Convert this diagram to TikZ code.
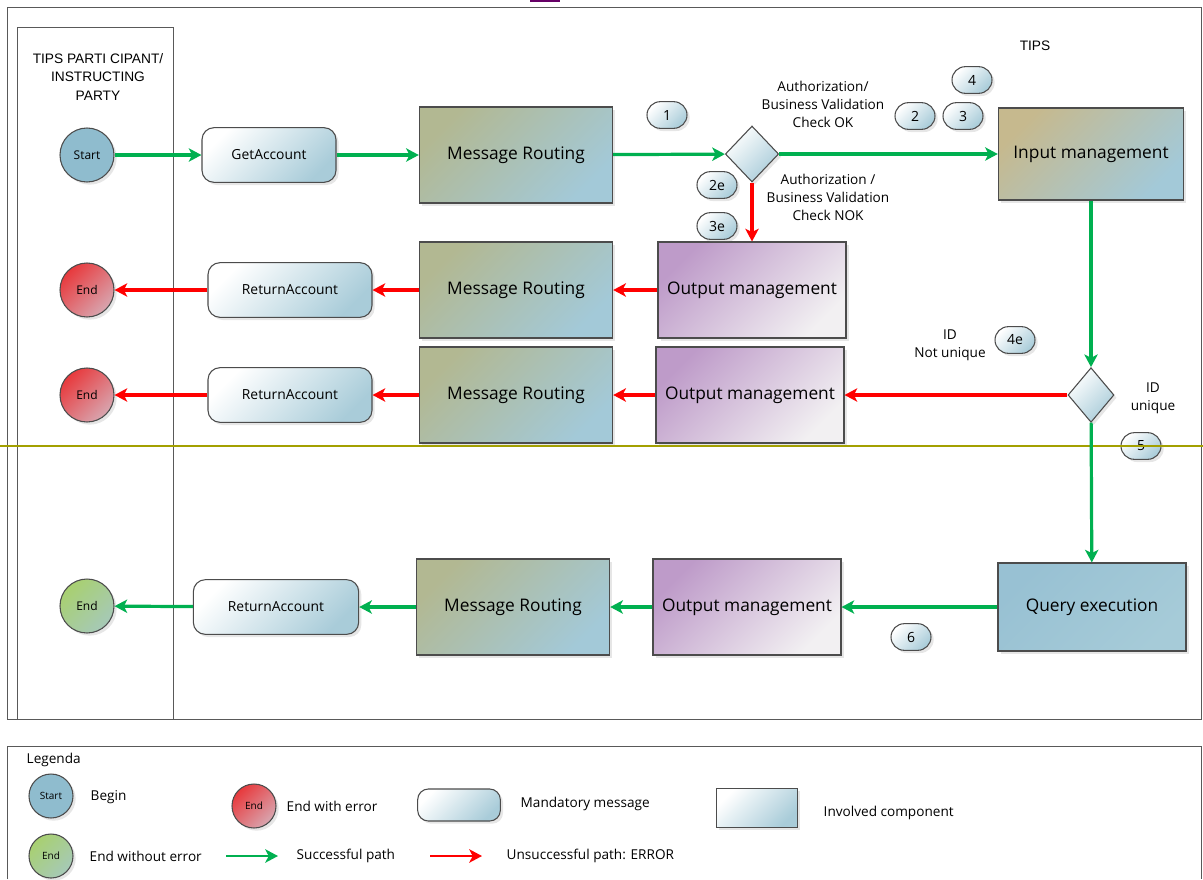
\documentclass[tikz,border=0pt]{standalone}
\usepackage{fontspec}
\setmainfont{Open Sans}
\newfontfamily\tahoma{Liberation Sans}
\usetikzlibrary{shapes.geometric,arrows.meta,shadows}

\definecolor{okgreen}{HTML}{00B050}
\definecolor{kored}{HTML}{FF0000}
\definecolor{laneolive}{HTML}{A3A000}
\definecolor{startblue}{HTML}{8FBCCE}
\definecolor{msgblue}{HTML}{A9CCD9}
\definecolor{routekhaki}{HTML}{B2B892}
\definecolor{routeblue}{HTML}{A3C9D8}
\definecolor{inputsand}{HTML}{C6B98E}
\definecolor{outputlilac}{HTML}{BE9BC9}
\definecolor{outputpale}{HTML}{F2F0F2}
\definecolor{querytop}{HTML}{98C1D3}
\definecolor{querybot}{HTML}{A6CBD8}
\definecolor{endredA}{HTML}{E8393C}
\definecolor{endredB}{HTML}{D8A6B0}
\definecolor{endgreenA}{HTML}{A8D070}
\definecolor{endgreenB}{HTML}{A6C9B8}

\begin{document}
\begin{tikzpicture}[x=0.75pt,y=-0.75pt,
  frame/.style={draw=black!65,line width=0.7pt},
  shad/.style={drop shadow={opacity=0.2,shadow xshift=2pt,shadow yshift=-2pt}},
  startnode/.style={circle,draw=black!70,line width=0.8pt,minimum size=40.5pt,inner sep=0pt,
    fill=startblue,shad,font=\fontsize{9}{11}\selectfont},
  endred/.style={startnode,top color=endredA,bottom color=endredB,shading angle=45},
  endgreen/.style={startnode,top color=endgreenA,bottom color=endgreenB,shading angle=45},
  msg/.style={draw=black!70,line width=0.8pt,rounded corners=9pt,minimum height=41pt,
    top color=white,bottom color=msgblue,shading angle=45,shad,font=\fontsize{10.4}{12}\selectfont},
  comp/.style={draw=black!70,line width=0.8pt,minimum width=145pt,minimum height=72pt,shad,
    font=\fontsize{13}{15}\selectfont,text height=0.75em,text depth=0.05em},
  routing/.style={comp,top color=routekhaki,bottom color=routeblue,shading angle=45},
  output/.style={comp,minimum width=141pt,top color=outputlilac,bottom color=outputpale,shading angle=45},
  decision/.style={diamond,draw=black!70,line width=0.8pt,minimum width=40pt,minimum height=42pt,
    inner sep=0pt,top color=white,bottom color=msgblue,shading angle=45,shad},
  bubble/.style={draw=black!70,line width=0.8pt,rounded corners=10pt,minimum width=30pt,
    minimum height=20pt,inner sep=0pt,top color=white,bottom color=msgblue,shading angle=45,shad,
    font=\fontsize{10.5}{12}\selectfont},
  lbl/.style={font=\fontsize{10.2}{13.5}\selectfont,align=center},
  title/.style={font=\tahoma\fontsize{10.3}{14}\selectfont,align=center},
  ok/.style={draw=okgreen,line width=2.4pt,-{Stealth[length=9.5pt,width=10pt,inset=2.5pt]}},
  ko/.style={draw=kored,line width=2.4pt,-{Stealth[length=9.5pt,width=10pt,inset=2.5pt]}}]
\useasboundingbox (0,0) rectangle (1203,879);

\draw[frame] (7,7) rectangle (1201,719);
\draw[frame] (17,27) rectangle (173,719);
\fill[violet!80!black] (530,0) rectangle (560,2);
\draw[frame] (7,879) -- (7,746) -- (1201,746) -- (1201,879);

\node[title] (lane) at (98,77) {TIPS PARTI CIPANT/\\INSTRUCTING\\PARTY};
\node[title] (tips) at (1035,46) {TIPS};

% request
\node[startnode] (start) at (87,155) {Start};
\node[msg,minimum width=100.5pt] (get) at (269,155) {GetAccount};
\node[routing] (mr1) at (516,155) {Message Routing};
\node[decision] (d1) at (752,154) {};
\node[comp,minimum width=139pt,minimum height=69pt,top color=inputsand,bottom color=routeblue,shading angle=45] (im) at (1091,154) {Input management};

% error rows
\node[output] (om1) at (752,290) {Output management};
\node[routing] (mr2) at (516,290) {Message Routing};
\node[msg,minimum width=123pt] (ra1) at (290,290) {ReturnAccount};
\node[endred] (end1) at (87,290) {End};

\node[decision,minimum width=34.5pt,minimum height=41pt] (d2) at (1091,395) {};
\node[output] (om2) at (750,395) {Output management};
\node[routing] (mr3) at (516,395) {Message Routing};
\node[msg,minimum width=123pt] (ra2) at (290,395) {ReturnAccount};
\node[endred] (end2) at (87,395) {End};

% response
\node[comp,minimum width=141pt,minimum height=66pt,top color=querytop,bottom color=querybot,shading angle=45] (qe) at (1092,607) {Query execution};
\node[output] (om3) at (747,607) {Output management};
\node[routing] (mr4) at (513,607) {Message Routing};
\node[msg,minimum width=124pt] (ra3) at (276,607) {ReturnAccount};
\node[endgreen] (end3) at (87,606) {End};

\node[lbl] (okl) at (823,104) {Authorization/\\Business Validation\\Check OK};
\node[lbl] (nokl) at (828,197) {Authorization /\\Business Validation\\Check NOK};
\node[lbl] (nul) at (950,345) {ID\\Not unique};
\node[lbl] (ul) at (1153,398) {ID\\unique};

\node[bubble] (b1) at (667,115) {1};
\node[bubble] (b2) at (915,116) {2};
\node[bubble] (b3) at (963,116) {3};
\node[bubble] (b4) at (972,80) {4};
\node[bubble] (b2e) at (717,185) {2e};
\node[bubble] (b3e) at (717,226) {3e};
\node[bubble] (b4e) at (1015,340) {4e};
\node[bubble] (b5) at (1141,446) {5};
\node[bubble] (b6) at (911,637) {6};

\draw[laneolive,line width=1pt] (0,446) -- (1203,446);

\draw[ok] (start) -- (get);
\draw[ok] (get) -- (mr1);
\draw[ok] (mr1) -- (d1);
\draw[ok] (d1) -- (im);
\draw[ko] (d1) -- (om1);
\draw[ko] (om1) -- (mr2);
\draw[ko] (mr2) -- (ra1);
\draw[ko] (ra1) -- (end1);
\draw[ok] (im) -- (d2);
\draw[ko] (d2) -- (om2);
\draw[ko] (om2) -- (mr3);
\draw[ko] (mr3) -- (ra2);
\draw[ko] (ra2) -- (end2);
\draw[ok] (d2) -- (qe);
\draw[ok] (qe) -- (om3);
\draw[ok] (om3) -- (mr4);
\draw[ok] (mr4) -- (ra3);
\draw[ok] (ra3) -- (end3);

% legend
\node[lbl,anchor=west] (leg) at (22,760) {Legenda};
\node[startnode,minimum size=33pt,font=\fontsize{7.5}{9}\selectfont] (lstart) at (51,796) {Start};
\node[lbl,anchor=west] (lbegin) at (86,797) {Begin};
\node[endred,minimum size=33pt,font=\fontsize{7.5}{9}\selectfont] (lend) at (254,806) {End};
\node[lbl,anchor=west] (lendt) at (282,806) {End with error};
\node[msg,minimum width=62pt,minimum height=24pt,rounded corners=8pt] (lmsg) at (459,805) {};
\node[lbl,anchor=west] (lmsgt) at (516,804) {Mandatory message};
\node[comp,minimum width=61pt,minimum height=29pt,top color=white,bottom color=msgblue,shading angle=45] (lcomp) at (757,808) {};
\node[lbl,anchor=west] (lcompt) at (819,813) {Involved component};
\node[endgreen,minimum size=33pt,font=\fontsize{7.5}{9}\selectfont] (lok) at (51,856) {End};
\node[lbl,anchor=west] (lokt) at (85,856) {End without error};
\coordinate (gA) at (226,856);
\coordinate (gB) at (278,856);
\draw[ok,line width=1.8pt] (gA) -- (gB);
\node[lbl,anchor=west] (lgt) at (292,856) {Successful path};
\coordinate (rA) at (430,856);
\coordinate (rB) at (482,856);
\draw[ko,line width=1.8pt] (rA) -- (rB);
\node[lbl,anchor=west] (lrt) at (502,856) {Unsuccessful path: ERROR};
\end{tikzpicture}
\end{document}
